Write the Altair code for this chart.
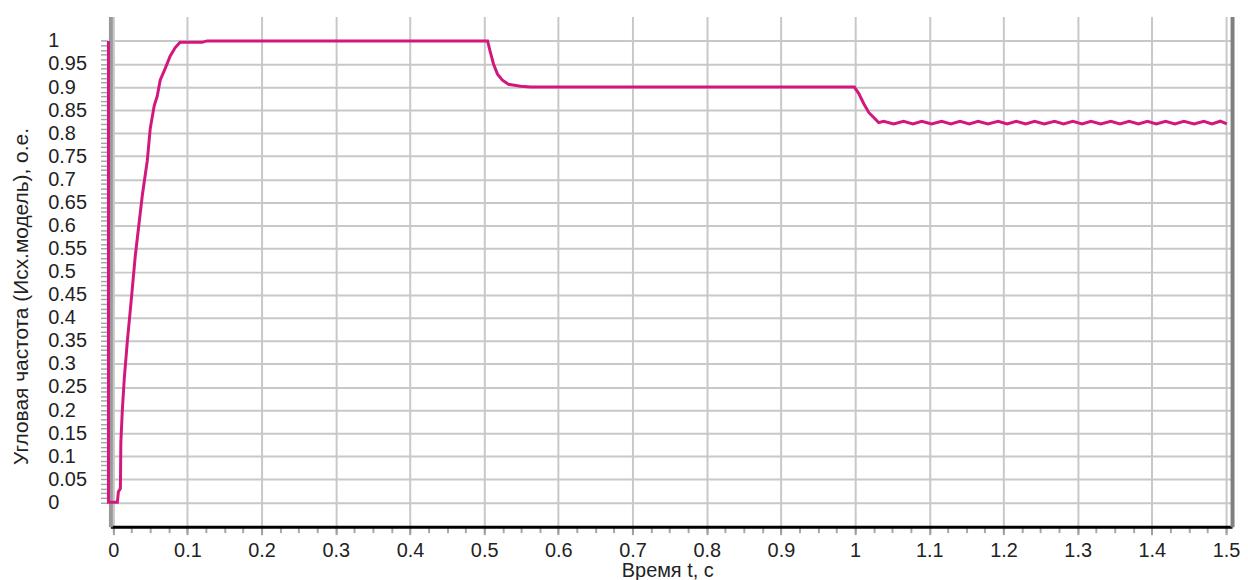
import altair as alt
import pandas as pd

# ---- data ----
t_values = [
    -0.0064, -0.0064, 0.0056, 0.0070, 0.0097, 0.0103, 0.0123, 0.0150, 0.0191,
    0.0244, 0.0298, 0.0392, 0.0432, 0.0459, 0.0499, 0.0553, 0.0593, 0.0633,
    0.0700, 0.0767, 0.0834, 0.0901, 0.1197, 0.1264,
    0.5046, 0.5086, 0.5126, 0.5180, 0.5247, 0.5327, 0.5490, 0.5624,
    0.9990, 1.0050, 1.0117, 1.0184, 1.0264, 1.0318,
    1.0385, 1.052, 1.0653, 1.078, 1.0899, 1.103, 1.1167, 1.129, 1.1414, 1.154,
    1.1660, 1.179, 1.1928, 1.205, 1.2173, 1.230, 1.2420, 1.255, 1.2688, 1.281,
    1.2934, 1.306, 1.3179, 1.331, 1.3448, 1.357, 1.3694, 1.382, 1.3940, 1.406,
    1.4185, 1.431, 1.4432, 1.457, 1.4700, 1.481, 1.4923, 1.5010,
]
w_values = [
    1.0, 0.0, 0.0, 0.023, 0.03, 0.13, 0.2, 0.27, 0.35,
    0.44, 0.535, 0.665, 0.71, 0.74, 0.81, 0.86, 0.88, 0.915,
    0.94, 0.967, 0.985, 0.997, 0.997, 1.0,
    1.0, 0.974, 0.95, 0.928, 0.915, 0.906, 0.902, 0.9,
    0.9, 0.886, 0.864, 0.845, 0.832, 0.823,
    0.826, 0.820, 0.826, 0.820, 0.826, 0.820, 0.826, 0.820, 0.826, 0.820,
    0.826, 0.820, 0.826, 0.820, 0.826, 0.820, 0.826, 0.820, 0.826, 0.820,
    0.826, 0.820, 0.826, 0.820, 0.826, 0.820, 0.826, 0.820, 0.826, 0.820,
    0.826, 0.820, 0.826, 0.820, 0.826, 0.820, 0.826, 0.820,
]

x_major = [round(i * 0.1, 1) for i in range(16)]
y_major = [round(i * 0.05, 2) for i in range(21)]
x_minor = [round(i * 0.025, 3) for i in range(61)]
y_minor = [round(i * 0.01, 2) for i in range(101)]

x_title = "Время t, c"
y_title = "Угловая частота (Исх.модель), о.е."

df = pd.DataFrame({"t": t_values, "w": w_values, "order": list(range(len(t_values)))})

W, H = 1128, 513
FONT = "Liberation Sans"
TXT = "#222222"
xs = alt.Scale(domain=[-0.00376, 1.5081], nice=False, zero=False)
ys = alt.Scale(domain=[-0.0528, 1.0528], nice=False, zero=False)

line = alt.Chart(df).mark_line(color="#d2177f", strokeWidth=3, clip=False).encode(
    x=alt.X("t:Q", scale=xs, title=x_title, axis=alt.Axis(
        orient="bottom", values=x_major, format="~g",
        grid=True, gridColor="#c8c8c8", gridWidth=2,
        ticks=True, tickSize=8, tickColor="#a0a0a0", tickWidth=2,
        domainColor="#000000", domainWidth=3,
        labelFont=FONT, labelFontSize=20, labelColor=TXT, labelPadding=6,
        labelFlush=False, labelOverlap=False,
        titleFont=FONT, titleFontSize=20, titleFontWeight="normal", titleColor=TXT,
        titleX=560, titleY=34, titleBaseline="top", titleAlign="center")),
    y=alt.Y("w:Q", scale=ys, title=y_title, axis=alt.Axis(
        orient="left", values=y_major, format="~g",
        grid=True, gridColor="#c8c8c8", gridWidth=2,
        ticks=False, domainColor="#9a9a9a", domainWidth=4,
        labelFont=FONT, labelFontSize=20, labelColor=TXT,
        labelAlign="left", labelBaseline="middle", labelPadding=63,
        labelOverlap=False, labelFlush=False,
        titleFont=FONT, titleFontSize=21, titleFontWeight="normal", titleColor=TXT,
        titleAngle=270, titleX=-89, titleY=281, titleAlign="center",
        titleBaseline="middle")),
    order="order:Q",
)

minor = alt.Chart(df).mark_point(opacity=0).encode(
    x=alt.X("t:Q", scale=xs, title=None, axis=alt.Axis(
        orient="bottom", values=x_minor, labels=False, grid=False, domain=False,
        ticks=True, tickSize=6, tickColor="#a8a8a8", tickWidth=2)),
    y=alt.Y("w:Q", scale=ys, title=None, axis=alt.Axis(
        orient="left", values=y_minor, labels=False, grid=False, domain=False,
        ticks=True, tickSize=7, offset=3, tickColor="#a8a8a8", tickWidth=1.5)),
)

border = alt.Chart(df).mark_point(opacity=0).encode(
    x=alt.X("t:Q", scale=xs, axis=None),
    y=alt.Y("w:Q", scale=ys, title=None, axis=alt.Axis(
        orient="right", labels=False, ticks=False, grid=False,
        domain=True, domainColor="#808080", domainWidth=4)),
)

chart = alt.layer(minor, border, line).resolve_axis(
    x="independent", y="independent"
).properties(
    width=W, height=H,
    padding={"left": 103, "top": 7, "right": 8, "bottom": 52},
    autosize=alt.AutoSizeParams(type="none"),
    background="white",
).configure_view(stroke=None)

chart.save("out.html", embed_options={"renderer": "svg", "actions": False})
